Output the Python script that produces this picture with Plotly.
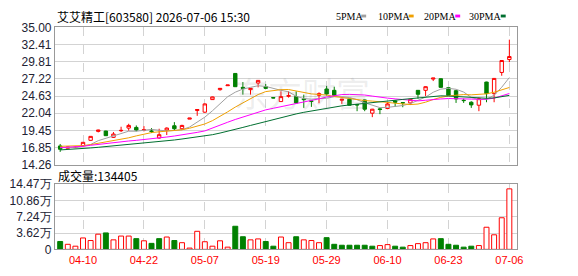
import plotly.graph_objects as go

# ---------------- data ----------------
dates = [
    "2026-04-07", "2026-04-08", "2026-04-09", "2026-04-10", "2026-04-13", "2026-04-14",
    "2026-04-15", "2026-04-16", "2026-04-17", "2026-04-20", "2026-04-21", "2026-04-22",
    "2026-04-23", "2026-04-24", "2026-04-27", "2026-04-28", "2026-04-29", "2026-04-30",
    "2026-05-06", "2026-05-07", "2026-05-08", "2026-05-11", "2026-05-12", "2026-05-13",
    "2026-05-14", "2026-05-15", "2026-05-18", "2026-05-19", "2026-05-20", "2026-05-21",
    "2026-05-22", "2026-05-25", "2026-05-26", "2026-05-27", "2026-05-28", "2026-05-29",
    "2026-06-01", "2026-06-02", "2026-06-03", "2026-06-04", "2026-06-05", "2026-06-08",
    "2026-06-09", "2026-06-10", "2026-06-11", "2026-06-12", "2026-06-15", "2026-06-16",
    "2026-06-17", "2026-06-18", "2026-06-22", "2026-06-23", "2026-06-24", "2026-06-25",
    "2026-06-26", "2026-06-29", "2026-06-30", "2026-07-01", "2026-07-02", "2026-07-06",
]
opens = [17.10, 16.75, 16.85, 17.15, 17.95, 19.30, 19.35, 18.40, 19.40, 19.80,
         19.90, 19.50, 19.35, 18.30, 19.45, 20.15, 19.70, 21.15, 22.45, 22.20,
         24.10, 25.60, 26.20, 28.05, 25.95, 25.60, 26.60, 26.05, 24.40, 23.80,
         24.60, 24.55, 24.20, 23.90, 24.75, 25.70, 25.50, 24.00, 24.15, 23.35,
         24.05, 22.05, 22.70, 22.75, 23.90, 23.65, 23.60, 25.50, 25.50, 27.20,
         27.25, 25.90, 25.45, 24.00, 23.70, 23.25, 26.75, 25.00, 28.20, 30.15]
highs = [17.40, 17.00, 17.00, 17.70, 18.60, 19.55, 19.40, 19.20, 20.00, 20.45,
         20.20, 20.10, 19.80, 19.70, 19.90, 20.70, 20.30, 21.30, 22.60, 23.50,
         24.55, 25.85, 26.30, 28.10, 26.75, 25.85, 27.00, 26.45, 24.45, 25.35,
         25.35, 25.35, 24.85, 24.00, 25.20, 26.15, 26.05, 24.20, 24.20, 23.45,
         24.10, 22.70, 22.85, 23.70, 24.05, 23.70, 24.20, 25.50, 26.10, 27.35,
         27.30, 25.95, 25.50, 24.25, 23.85, 24.40, 26.80, 27.35, 30.05, 33.15]
lows = [16.20, 16.70, 16.80, 17.05, 17.90, 19.15, 18.60, 18.30, 19.20, 19.40,
        19.30, 19.30, 19.05, 18.20, 18.75, 19.45, 19.50, 21.15, 21.65, 22.10,
        24.05, 25.45, 26.20, 26.00, 24.85, 24.85, 25.95, 25.70, 24.30, 23.75,
        24.40, 23.45, 22.85, 23.00, 23.55, 24.70, 24.60, 23.45, 23.20, 22.35,
        22.35, 21.45, 21.90, 22.65, 23.00, 22.95, 23.30, 24.25, 24.65, 26.90,
        25.90, 24.70, 23.60, 23.60, 22.85, 22.35, 23.70, 23.70, 27.70, 29.75]
closes = [16.60, 16.95, 16.90, 17.65, 18.55, 19.50, 18.65, 18.90, 19.45, 20.20,
          19.50, 19.55, 19.30, 18.80, 19.80, 19.70, 20.20, 21.30, 22.60, 23.45,
          24.50, 25.80, 26.30, 26.05, 25.80, 25.80, 27.00, 25.80, 24.35, 24.55,
          24.70, 23.60, 24.10, 23.85, 25.00, 24.95, 24.75, 24.15, 23.25, 23.30,
          22.65, 22.65, 22.60, 23.45, 23.70, 23.60, 24.15, 24.90, 26.05, 27.35,
          25.95, 24.75, 24.20, 23.95, 23.30, 24.25, 25.00, 27.30, 30.00, 30.60]
volumes = [17500, 11200, 7000, 25300, 19600, 33700, 36500, 21100, 29500, 29500,
           23800, 19000, 13300, 23800, 27400, 19600, 14800, 2800, 40100, 16900,
           7000, 19000, 4900, 51300, 28000, 21100, 23200, 17500, 7000, 27400,
           14800, 28000, 21100, 19600, 14800, 26000, 11200, 9100, 9100, 9100,
           9100, 7000, 8400, 10500, 7000, 4900, 8400, 12700, 14800, 23200,
           23800, 11200, 9100, 4900, 7000, 8400, 49100, 32300, 70200, 134405]
# 1 = up day (red volume bar), 0 = down day (green volume bar)
vol_up = [0, 1, 1, 1, 1, 1, 0, 1, 1, 1,
          0, 1, 0, 0, 1, 0, 1, 1, 1, 1,
          1, 1, 1, 0, 0, 1, 1, 0, 0, 1,
          1, 0, 1, 1, 1, 0, 0, 0, 0, 0,
          0, 0, 1, 1, 0, 0, 1, 1, 1, 1,
          0, 0, 0, 0, 0, 1, 1, 1, 1, 1]
ma5 = [16.85, 16.80, 16.85, 17.05, 17.32, 17.90, 18.24, 18.63, 19.00, 19.33,
       19.33, 19.51, 19.60, 19.47, 19.39, 19.43, 19.56, 19.96, 20.72, 21.45,
       22.41, 23.53, 24.53, 25.22, 25.69, 25.95, 26.19, 26.09, 25.75, 25.50,
       25.28, 24.60, 24.26, 24.16, 24.25, 24.30, 24.53, 24.54, 24.42, 24.08,
       23.62, 23.20, 22.89, 22.93, 23.01, 23.20, 23.50, 23.96, 24.48, 25.21,
       25.68, 25.80, 25.66, 25.24, 24.43, 24.09, 24.14, 24.76, 25.97, 27.43]
ma10 = [17.05, 17.05, 17.10, 17.15, 17.30, 17.50, 17.70, 17.90, 18.10, 18.33,
        18.62, 18.88, 19.12, 19.24, 19.36, 19.38, 19.54, 19.78, 20.10, 20.42,
        20.92, 21.55, 22.25, 22.97, 23.57, 24.18, 24.86, 25.31, 25.49, 25.60,
        25.62, 25.40, 25.18, 24.96, 24.88, 24.79, 24.57, 24.40, 24.29, 24.17,
        23.96, 23.87, 23.72, 23.68, 23.55, 23.41, 23.35, 23.43, 23.71, 24.11,
        24.44, 24.65, 24.81, 24.86, 24.82, 24.89, 24.97, 25.21, 25.61, 25.93]
ma20 = [16.85, 16.90, 16.95, 17.05, 17.20, 17.35, 17.50, 17.60, 17.75, 17.85,
        17.95, 18.05, 18.15, 18.30, 18.45, 18.60, 18.75, 18.95, 19.15, 19.37,
        19.77, 20.21, 20.68, 21.10, 21.47, 21.78, 22.20, 22.55, 22.79, 23.01,
        23.27, 23.47, 23.71, 23.96, 24.22, 24.49, 24.71, 24.86, 24.89, 24.88,
        24.79, 24.63, 24.45, 24.32, 24.21, 24.10, 23.96, 23.91, 24.00, 24.14,
        24.20, 24.26, 24.26, 24.27, 24.18, 24.15, 24.16, 24.32, 24.66, 25.02]
ma30 = [16.50, 16.55, 16.60, 16.70, 16.80, 16.90, 17.00, 17.10, 17.20, 17.35,
        17.45, 17.55, 17.65, 17.75, 17.85, 18.00, 18.15, 18.30, 18.45, 18.60,
        18.80, 19.05, 19.30, 19.60, 19.90, 20.20, 20.50, 20.80, 21.15, 21.45,
        21.72, 21.94, 22.18, 22.39, 22.60, 22.78, 22.99, 23.16, 23.29, 23.39,
        23.50, 23.60, 23.71, 23.87, 24.00, 24.13, 24.26, 24.38, 24.49, 24.62,
        24.67, 24.64, 24.57, 24.50, 24.41, 24.36, 24.30, 24.35, 24.53, 24.74]
tick_dates = ["2026-04-10", "2026-04-22", "2026-05-07", "2026-05-19",
              "2026-05-29", "2026-06-10", "2026-06-23", "2026-07-06"]
tick_labels = ["04-10", "04-22", "05-07", "05-19", "05-29", "06-10", "06-23", "07-06"]
price_ticks = [14.26, 16.85, 19.45, 22.04, 24.63, 27.22, 29.81, 32.41, 35.00]
vol_ticks = [0, 36175, 72350, 108525, 144700]
vol_tick_labels = ["0", "3.62万", "7.24万", "10.86万", "14.47万"]
ma_names = ["5PMA", "10PMA", "20PMA", "30PMA"]
title_text = "艾艾精工[603580] 2026-07-06 15:30"
volume_label = "成交量:134405"

# ---------------- style / layout ----------------
W, H = 578, 276
def fx(px):
    return px / W
def fy(py):
    return 1 - py / H

RED = "#ff0000"
GREEN = "#008000"
GRID = "#d3d3d3"
BORDER = "#999999"
ma_colors = ["#a0a0a0", "#f0a000", "#ff00ff", "#006f30"]
LEFT, RIGHT = 55.5, 522.3

fig = go.Figure()
fig.add_trace(go.Candlestick(
    x=dates, open=opens, high=highs, low=lows, close=closes,
    increasing=dict(line=dict(color=RED, width=1), fillcolor="#ffffff"),
    decreasing=dict(line=dict(color=GREEN, width=1), fillcolor=GREEN),
    whiskerwidth=0, xaxis="x", yaxis="y", showlegend=False, hoverinfo="skip"))
for name, vals, col in zip(ma_names, [ma5, ma10, ma20, ma30], ma_colors):
    fig.add_trace(go.Scatter(x=dates, y=vals, mode="lines", name=name,
                             line=dict(color=col, width=1), xaxis="x", yaxis="y",
                             showlegend=False, hoverinfo="skip"))
fig.add_trace(go.Bar(
    x=dates, y=volumes,
    marker=dict(color=["#ffffff" if u else GREEN for u in vol_up],
                line=dict(color=[RED if u else GREEN for u in vol_up], width=1)),
    xaxis="x2", yaxis="y2", showlegend=False, hoverinfo="skip"))

common_x = dict(
    type="category", domain=[fx(LEFT), fx(RIGHT)], range=[-0.69, 59.99],
    tickvals=tick_dates, ticktext=tick_labels, showgrid=True, gridcolor=GRID,
    griddash="dash", gridwidth=1, showline=True, linecolor=BORDER, linewidth=1,
    mirror=True, ticks="", zeroline=False, fixedrange=True)
common_y = dict(
    showgrid=True, gridcolor=GRID, gridwidth=1, showline=True, linecolor=BORDER,
    linewidth=1, mirror=True, ticks="", zeroline=False,
    tickfont=dict(family="Liberation Sans, Arial", size=12, color="#222233"))

fig.update_layout(
    width=W, height=H, margin=dict(l=0, r=0, t=0, b=0),
    paper_bgcolor="#ffffff", plot_bgcolor="#ffffff",
    boxgap=0.36, bargap=0.35, showlegend=False,
    xaxis=dict(common_x, anchor="y", showticklabels=False, rangeslider=dict(visible=False)),
    xaxis2=dict(common_x, anchor="y2", showticklabels=True,
                tickfont=dict(family="Liberation Sans, Arial", size=11, color=RED)),
    yaxis=dict(common_y, domain=[fy(166.2), fy(21.5)], range=[price_ticks[0], price_ticks[-1]],
               tickvals=price_ticks, ticktext=["%.2f" % v for v in price_ticks]),
    yaxis2=dict(common_y, domain=[fy(255.3), fy(186.7)], range=[0, vol_ticks[-1]],
                tickvals=vol_ticks, ticktext=vol_tick_labels),
)

annotations = [
    dict(text=title_text, x=fx(56), y=fy(9.5), xanchor="left", yanchor="middle",
         font=dict(family="Noto Sans CJK SC", size=12, color="#000000")),
    dict(text=volume_label, x=fx(57), y=fy(177), xanchor="left", yanchor="middle",
         font=dict(family="Noto Sans CJK SC", size=12, color="#000000")),
    dict(text="东方财富", x=fx(305), y=fy(90), xanchor="center", yanchor="middle",
         font=dict(family="Noto Sans CJK SC", size=34, color="rgba(120,120,120,0.13)")),
]
legend_x = [338, 380, 426, 472]
swatch_x = [365, 413, 460, 506]
shapes = []
for name, lx, sx, col in zip(ma_names, legend_x, swatch_x, ma_colors):
    annotations.append(dict(text=name, x=fx(lx), y=fy(9.5), xanchor="left", yanchor="middle",
                            font=dict(family="Liberation Serif", size=10, color="#000000")))
    shapes.append(dict(type="rect", xref="paper", yref="paper",
                       x0=fx(sx), x1=fx(sx + 5), y0=fy(11), y1=fy(8),
                       fillcolor=col, line=dict(width=0)))
for a in annotations:
    a.update(xref="paper", yref="paper", showarrow=False)
fig.update_layout(annotations=annotations, shapes=shapes)

fig.write_html("out.html")
